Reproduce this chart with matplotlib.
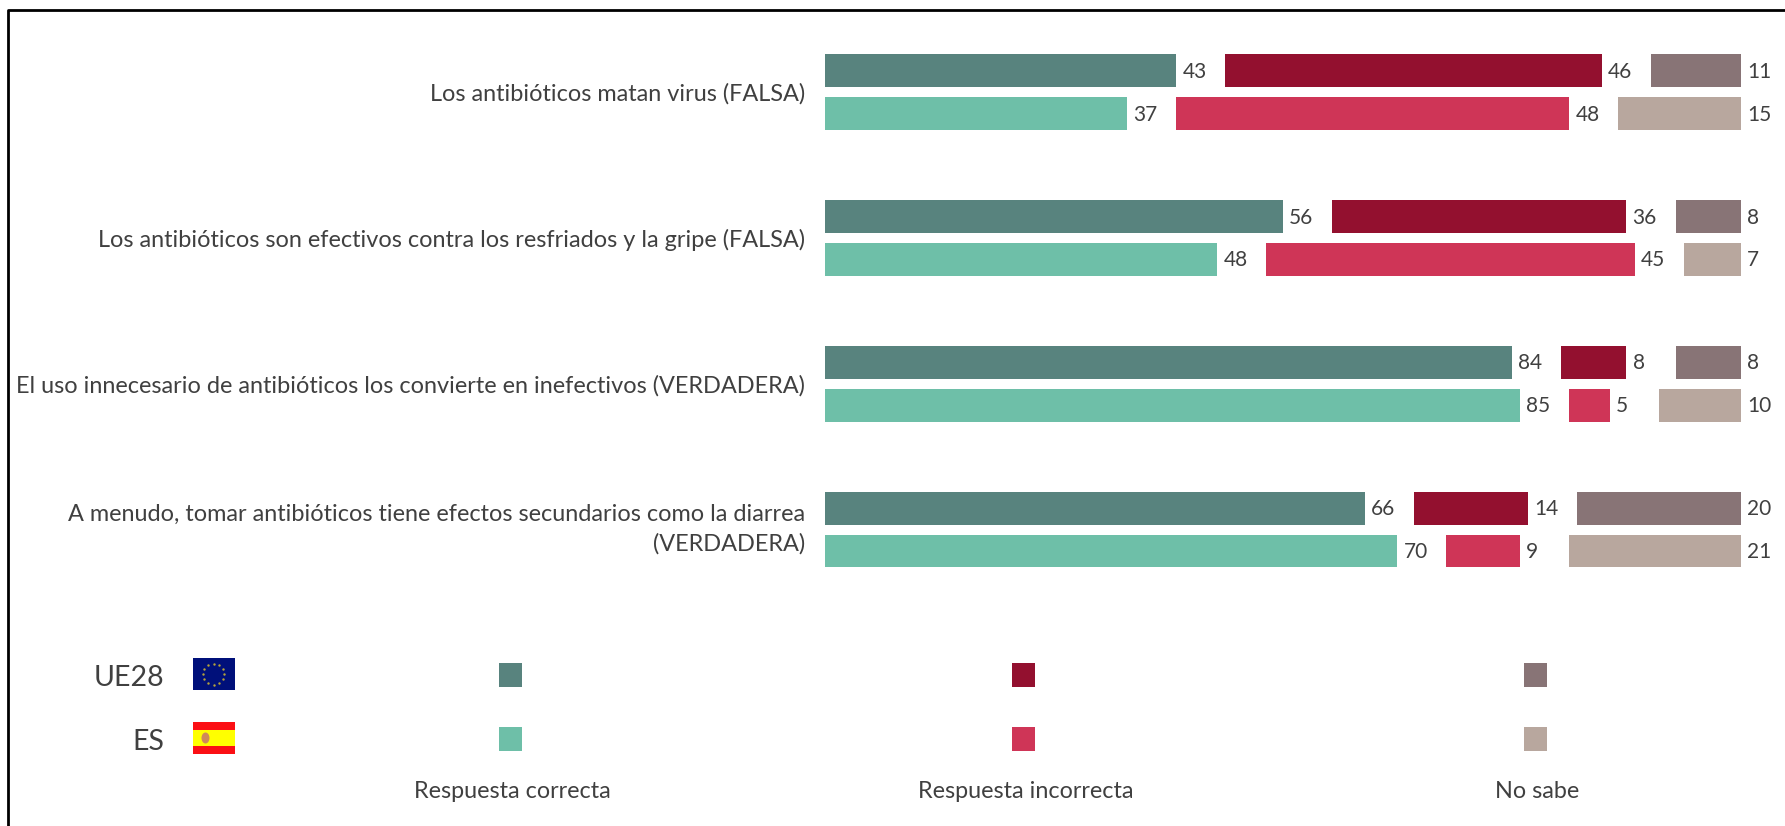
import numpy as np
import matplotlib.pyplot as plt
from matplotlib.patches import Rectangle, Ellipse

plt.rcParams['font.family'] = ['Lato', 'DejaVu Sans']

preguntas = [
    'Los antibióticos matan virus (FALSA)',
    'Los antibióticos son efectivos contra los resfriados y la gripe (FALSA)',
    'El uso innecesario de antibióticos los convierte en inefectivos (VERDADERA)',
    'A menudo, tomar antibióticos tiene efectos secundarios como la diarrea\n(VERDADERA)',
]
ue_correcta = [43, 56, 84, 66]
ue_incorrecta = [46, 36, 8, 14]
ue_nosabe = [11, 8, 8, 20]
es_correcta = [37, 48, 85, 70]
es_incorrecta = [48, 45, 5, 9]
es_nosabe = [15, 7, 10, 21]
respuestas = ['Respuesta correcta', 'Respuesta incorrecta', 'No sabe']
paises = ['UE28', 'ES']

colores_ue = ['#58837e', '#93102f', '#887476']
colores_es = ['#6ebfa8', '#cf3557', '#b8a79e']
GRIS = '#404040'
W, H = 1785, 826
HUECO = 6  # separacion entre bloques, en puntos porcentuales

fig = plt.figure(figsize=(W / 100, H / 100), dpi=100)

# capa en pixeles para marco y leyenda
fondo = fig.add_axes([0, 0, 1, 1])
fondo.set_xlim(0, W)
fondo.set_ylim(H, 0)
fondo.axis('off')
fondo.plot([8, 8, W], [H, 10, 10], color='black', lw=2)


def dibujar_filas(ax, y, series, colores):
    izquierda = np.zeros(len(y))
    for valores, color in zip(series, colores):
        ax.barh(y, valores, left=izquierda, height=0.226, color=color)
        for yi, x0, v in zip(y, izquierda, valores):
            ax.text(x0 + v + 0.75, yi + 0.008, str(v), va='center', ha='left',
                    fontsize=15, color=GRIS, clip_on=False)
        izquierda = izquierda + np.array(valores) + HUECO


# barras
ax = fig.add_axes([824.5 / W, 1 - 602.5 / H, 916.5 / W, 583.5 / H])
grupos = np.arange(len(preguntas))
dibujar_filas(ax, grupos - 0.147, [ue_correcta, ue_incorrecta, ue_nosabe], colores_ue)
dibujar_filas(ax, grupos + 0.147, [es_correcta, es_incorrecta, es_nosabe], colores_es)
ax.set_xlim(0, 100 + 2 * HUECO)
ax.set_ylim(3.5, -0.5)
ax.set_xticks([])
ax.set_yticks([])
for g, texto in zip(grupos, preguntas):
    # la etiqueta de dos lineas va un poco mas arriba
    ajuste = 0.018 if '\n' in texto else 0
    ax.text(-2.38, g + 0.016 - ajuste, texto, ha='right', va='center', fontsize=16.9,
            color=GRIS, linespacing=1.44, multialignment='right')
ax.patch.set_alpha(0)
for lado in ax.spines.values():
    lado.set_visible(False)

# leyenda
filas_y = [675, 739]
columnas_x = [510, 1023.5, 1535.5]
for fila, colores in zip(filas_y, [colores_ue, colores_es]):
    for cx, color in zip(columnas_x, colores):
        fondo.add_patch(Rectangle((cx - 11.5, fila - 12), 23, 24, color=color, lw=0))
for cx, texto in zip(columnas_x, respuestas):
    fondo.text(cx + 2, 792, texto, ha='center', va='center', fontsize=16.8, color=GRIS)
for fila, texto in zip(filas_y, paises):
    fondo.text(164, fila + 3.5, texto, ha='right', va='center', fontsize=20.5, color=GRIS)

# bandera UE
fondo.add_patch(Rectangle((192.5, 658), 42, 32, color='#00107a', lw=0))
ang = np.arange(12) * np.pi / 6
fondo.scatter(213.5 + 10.5 * np.cos(ang), 674 + 10.5 * np.sin(ang), s=3, color='#b5a33a', lw=0)

# bandera ES
fondo.add_patch(Rectangle((192.5, 722), 42, 32, color='#fb0f14', lw=0))
fondo.add_patch(Rectangle((192.5, 730), 42, 16, color='#ffff00', lw=0))
fondo.add_patch(Ellipse((205.5, 738), 8, 11, color='#cf8a5a', lw=0))

fig.savefig('out.png', dpi=100)
